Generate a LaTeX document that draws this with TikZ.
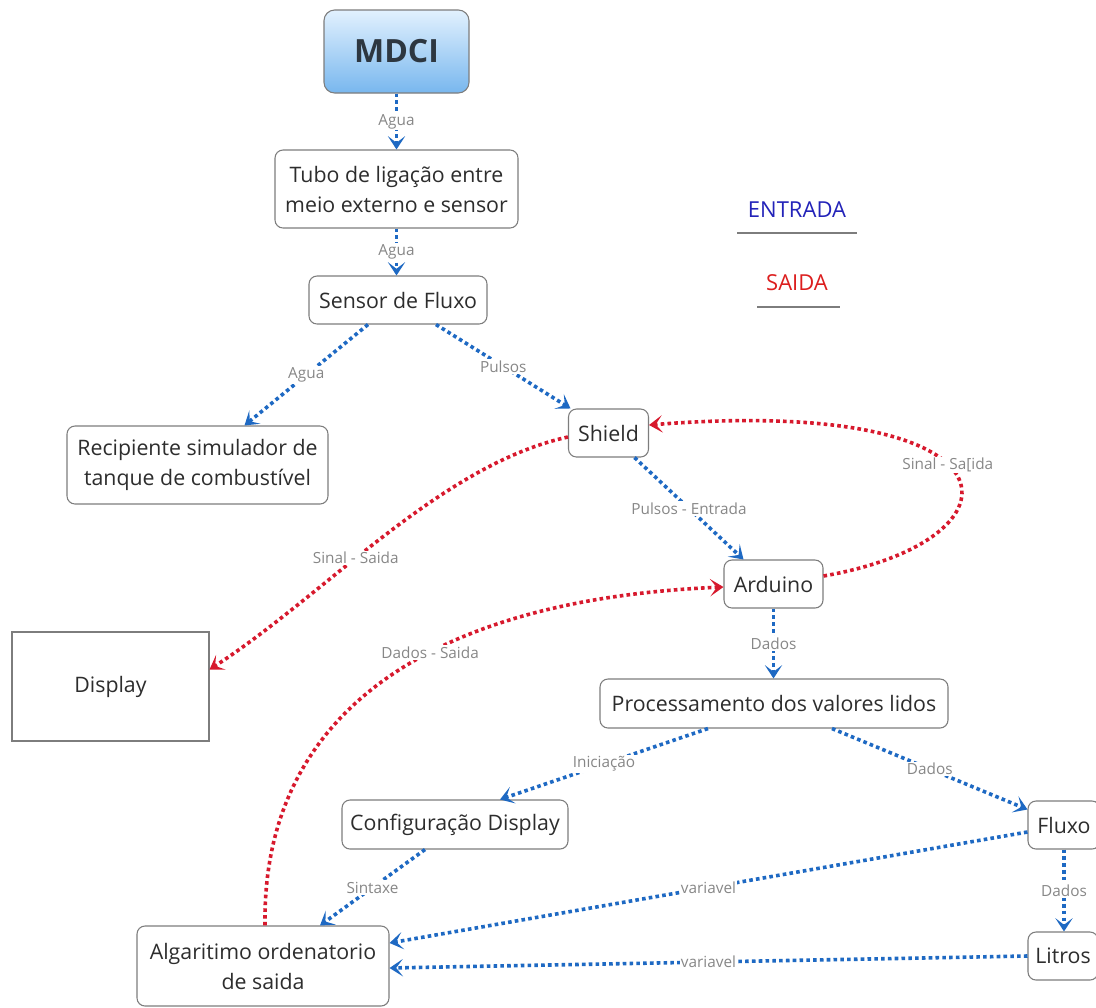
\documentclass[tikz,border=0pt]{standalone}
\usepackage{fontspec}
\setmainfont{Open Sans}
\usetikzlibrary{arrows.meta,calc}
\definecolor{cblue}{RGB}{30,105,195}
\definecolor{cred}{RGB}{215,25,45}
\definecolor{cgray}{RGB}{135,135,135}
\definecolor{ctext}{RGB}{45,45,45}
\definecolor{cborder}{RGB}{125,125,125}
\definecolor{cent}{RGB}{35,35,185}
\definecolor{csai}{RGB}{220,30,30}
\definecolor{ctop}{RGB}{226,241,254}
\definecolor{cbot}{RGB}{120,183,238}
\begin{document}
\begin{tikzpicture}[x=0.75pt,y=-0.75pt,
 box/.style={draw=cborder,line width=0.8pt,rounded corners=6pt,fill=white,text=ctext,
   font=\fontsize{16}{22.5}\selectfont,align=center,inner sep=0pt},
 lab/.style={font=\fontsize{11.5}{13}\selectfont,text=cgray,fill=white,inner sep=1pt},
 conn/.style={line width=2.7pt,dash pattern=on 2.7pt off 2.4pt,
   -{Stealth[length=10pt,width=13pt,inset=5pt]}},
 bconn/.style={conn,draw=cblue},
 rconn/.style={conn,draw=cred}]
\useasboundingbox (0,0) rectangle (1096,1007);
\fill[white] (0,0) rectangle (1096,1007);

% nodes
\node[box,rounded corners=8pt,top color=ctop,bottom color=cbot,draw=cborder,
  minimum width=108.75pt,minimum height=62.25pt,
  font=\fontsize{24}{28}\selectfont\bfseries,text={rgb,255:red,45;green,55;blue,65}]
  (mdci) at (396.5,51.5) {MDCI};
\node[box,minimum width=182.25pt,minimum height=58.5pt] (tubo) at (396.5,189)
  {Tubo de ligação entre\\meio externo e sensor};
\node[box,minimum width=133.5pt,minimum height=36pt] (sensor) at (398,300) {Sensor de Fluxo};
\node[box,minimum width=195.75pt,minimum height=58.5pt] (recip) at (197.5,465)
  {Recipiente simulador de\\tanque de combustível};
\node[box,rounded corners=0pt,minimum width=147.75pt,minimum height=81.75pt] (display)
  at (110.5,686.5) {Display};
\node[box,minimum width=60pt,minimum height=36pt] (shield) at (608.5,433) {Shield};
\node[box,minimum width=74.25pt,minimum height=36pt] (arduino) at (773.5,584) {Arduino};
\node[box,minimum width=261pt,minimum height=36.75pt] (proc) at (774,703.5)
  {Processamento dos valores lidos};
\node[box,minimum width=169.5pt,minimum height=36.75pt] (config) at (455,824.5)
  {Configuração Display};
\node[box,minimum width=54pt,minimum height=36pt] (fluxo) at (1064,825) {Fluxo};
\node[box,minimum width=52.5pt,minimum height=36pt] (litros) at (1063,956) {Litros};
\node[box,minimum width=189pt,minimum height=60pt] (algo) at (263,966)
  {Algaritimo ordenatorio\\de saida};

% legend
\node[font=\fontsize{16.5}{18}\selectfont,text=cent] (entrada) at (797,210) {ENTRADA};
\draw[cborder,line width=0.8pt] (737,233) -- (857,233);
\node[font=\fontsize{16.5}{18}\selectfont,text=csai] (saida) at (797,283) {SAIDA};
\draw[cborder,line width=0.8pt] (757,307) -- (840,307);

% blue connectors
\draw[bconn] (mdci.south) -- node[lab]{Agua} (tubo.north);
\draw[bconn] (tubo.south) -- node[lab]{Agua} (tubo.south |- sensor.north);
\draw[bconn] ($(sensor.south)+(-30,0)$) -- node[lab,pos=0.5]{Agua} ($(recip.north)+(47,0)$);
\draw[bconn] ($(sensor.south)+(38,0)$) -- node[lab]{Pulsos} ($(shield.north)+(-38,0)$);
\draw[bconn] ($(shield.south)+(26,0)$) -- node[lab]{Pulsos - Entrada} ($(arduino.north)+(-30,0)$);
\draw[bconn] (arduino.south) -- node[lab]{Dados} (arduino.south |- proc.north);
\draw[bconn] ($(proc.south)+(-66,0)$) -- node[lab]{Iniciação} ($(config.north)+(45,0)$);
\draw[bconn] ($(proc.south)+(58,0)$) -- node[lab]{Dados} ($(fluxo.north west)+(0,9)$);
\draw[bconn] ($(config.south)+(-30,0)$) -- node[lab]{Sintaxe} ($(algo.north)+(57,0)$);
\draw[bconn] ($(fluxo.west)+(0,7)$) -- node[lab]{variavel} ($(algo.east)+(0,-23)$);
\draw[bconn] (litros.west) -- node[lab]{variavel} ($(algo.east)+(0,2)$);
\draw[bconn] (fluxo.south) -- node[lab]{Dados} (fluxo.south |- litros.north);

% red connectors
\draw[rconn] ($(arduino.east)+(0,-8)$) .. controls (1030,540) and (1030,395) ..
  node[lab,pos=0.55]{Sinal - Sa[ida} ($(shield.east)+(0,-8)$);
\draw[rconn] ($(shield.west)+(0,4)$) .. controls (440,465) and (325,595) ..
  node[lab,pos=0.58]{Sinal - Saida} ($(display.east)+(0,-17)$);
\draw[rconn] ($(algo.north)+(2,0)$) .. controls (262,720) and (420,600) ..
  node[lab,pos=0.6]{Dados - Saida} ($(arduino.west)+(0,3)$);
\end{tikzpicture}
\end{document}
